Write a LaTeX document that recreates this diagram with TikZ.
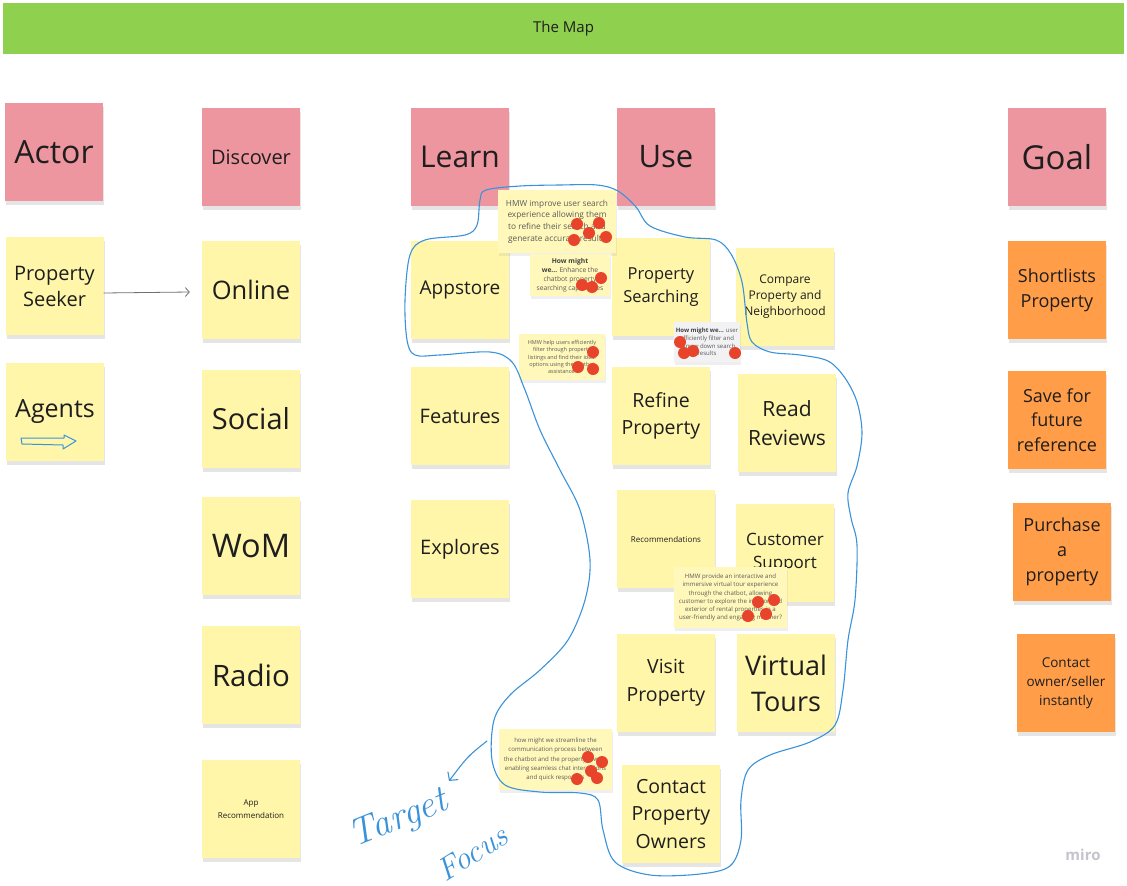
\documentclass[tikz,border=0pt]{standalone}
\usepackage{fontspec}
\setsansfont{Open Sans}
\renewcommand{\familydefault}{\sfdefault}
\usepackage{tikz}
\usetikzlibrary{positioning, arrows.meta, shadows}
\usepackage{xcolor}

\definecolor{mapgreen}{HTML}{8FD14F}
\definecolor{notepink}{HTML}{EE96A0}
\definecolor{noteyellow}{HTML}{FFF6A9}
\definecolor{noteorange}{HTML}{FF9D48}
\definecolor{hmwyellow}{HTML}{FFF8BA}
\definecolor{hmwcard}{HTML}{F2F2F4}
\definecolor{hmwtext}{HTML}{5A5A5A}
\definecolor{ink}{HTML}{1E1E1E}
\definecolor{votered}{HTML}{E8432B}
\definecolor{penblue}{HTML}{3A93DA}
\definecolor{arrowgrey}{HTML}{707070}
\definecolor{mirogrey}{HTML}{C4C4CC}

\begin{document}
\begin{tikzpicture}[
    x=1pt, y=-1pt,
    fs/.style 2 args={font=\fontsize{#1}{#2}\selectfont},
    note/.style={rectangle, minimum width=98pt, minimum height=98pt, inner sep=1pt, align=center, text=ink,
        drop shadow={shadow xshift=1pt, shadow yshift=-4pt, opacity=0.2}},
    stage/.style={note, fill=notepink},
    idea/.style={note, fill=noteyellow},
    goalcard/.style={note, fill=noteorange},
    hmw/.style={rectangle, fill=hmwyellow, align=center, text=hmwtext, inner sep=0pt,
        drop shadow={shadow xshift=1pt, shadow yshift=-3pt, opacity=0.12}},
    hmwnote/.style={hmw, fill=hmwcard},
    flow/.style={draw=arrowgrey, line width=0.8pt, -{Straight Barb[length=4pt, width=9pt]}},
    pen/.style={draw=penblue, line width=1.1pt, line cap=round, line join=round},
    hand/.style={text=penblue, inner sep=0pt, font=\fontsize{#1}{#1}\selectfont\rmfamily\itshape},
    vote/.style={fill=votered}
]
    \fill[white] (0,0) rectangle (1127,886);
    \useasboundingbox (0,0) rectangle (1127,886);

    % Title bar
    \node[fill=mapgreen, minimum width=1121pt, minimum height=51pt, fs={15}{18}, text=ink] (header) at (563.5,28.5) {The Map};

    % Actor column
    \node[stage, fs={32}{40}] (actor) at (54,152) {Actor};
    \node[idea, fs={20}{26}] (seeker) at (54.5,286) {Property\\Seeker};
    \node[idea, fs={25}{31}] (agents) at (55,412) {Agents};

    % Discover column
    \node[stage, fs={20}{26}] (discover) at (251,157) {Discover};
    \node[idea, fs={25.5}{32}] (online) at (251,290) {Online};
    \node[idea, fs={29}{36}] (social) at (251,419) {Social};
    \node[idea, fs={32.5}{40}] (wom) at (251,546) {WoM};
    \node[idea, fs={29.5}{36}] (radio) at (251,675) {Radio};
    \node[idea, fs={8}{12.5}] (apprec) at (251,809) {App\\Recommendation};

    % Learn column
    \node[stage, fs={30}{36}] (learn) at (460,157) {Learn};
    \node[idea, fs={19}{24}] (appstore) at (460,290) {Appstore};
    \node[idea, fs={20}{24}] (features) at (460,416) {Features};
    \node[idea, fs={20}{24}] (explores) at (460,549) {Explores};

    % Use columns
    \node[stage, fs={31}{38}] (use) at (666,157) {Use};
    \node[idea, fs={16.5}{23}] (searching) at (661,287) {Property\\Searching};
    \node[idea, fs={19.5}{27}] (refine) at (661,416) {Refine\\Property};
    \node[idea, fs={8}{10}] (recommend) at (666,539) {Recommendations};
    \node[idea, fs={19.5}{28}] (visit) at (666,683) {Visit\\Property};
    \node[idea, fs={19.5}{27.5}] (contact) at (671,814) {Contact\\Property\\Owners};
    \node[idea, fs={12}{16}] (compare) at (785,297) {Compare\\Property and\\Neighborhood};
    \node[idea, fs={21}{29}] (reviews) at (787,423) {Read\\Reviews};
    \node[idea, fs={17}{23}] (support) at (785,553) {Customer\\Support};
    \node[idea, fs={27}{36}] (tours) at (786,683) {Virtual\\Tours};

    % Goal column
    \node[stage, fs={33}{40}] (goal) at (1057,157) {Goal};
    \node[goalcard, fs={18}{25}] (shortlist) at (1057,290) {Shortlists\\Property};
    \node[goalcard, fs={18}{24.5}] (save) at (1057,420) {Save for\\future\\reference};
    \node[goalcard, fs={18}{25}] (purchase) at (1062,552) {Purchase\\a\\property};
    \node[goalcard, fs={13.5}{19}] (owner) at (1066,683) {Contact\\owner/seller\\instantly};

    % HMW notes
    \node[hmw, minimum width=118pt, minimum height=63pt, fs={8.3}{11.7}] (hmwsearch) at (557,221.5)
        {HMW improve user search\\experience allowing them\\to refine their search and\\generate accurate results};
    \node[hmw, minimum width=80pt, minimum height=42pt, fs={6.7}{9}] (hmwchatbot) at (570,275)
        {\textbf{\color{ink!85}How might}\\\textbf{\color{ink!85}we...} Enhance the\\chatbot property\\searching capabilities};
    \node[hmw, minimum width=86pt, minimum height=46pt, fs={5.5}{7.3}] (hmwfilter) at (562,357)
        {HMW help users efficiently\\filter through property\\listings and find their ideal\\options using the chatbot\\assistance.};
    \node[hmwnote, minimum width=66pt, minimum height=40pt, fs={6}{7.8}] (hmwnarrow) at (707,342)
        {\textbf{\color{ink!85}How might we...} user\\efficiently filter and\\narrow down search\\results};
    \node[hmw, minimum width=113pt, minimum height=61pt, fs={6.1}{8.1}] (hmwtour) at (730.5,597.5)
        {HMW provide an interactive and\\immersive virtual tour experience\\through the chatbot, allowing\\customer to explore the interior and\\exterior of rental properties in a\\user-friendly and engaging manner?};
    \node[hmw, minimum width=113pt, minimum height=61pt, fs={6.1}{9.2}] (hmwchat) at (555.5,759.5)
        {how might we streamline the\\communication process between\\the chatbot and the property owner,\\enabling seamless chat interactions\\and quick responses};

    % Votes
    \foreach \p in {(577,224),(599,223),(589,233),(606,237),(574,240),
                    (601,278),(582,285),(592,287),
                    (593,352),(578,367),(593,369),
                    (680,342),(684,353),(693,351),(735,353),
                    (758,602),(774,600),(766,614),(748,616),
                    (588,757),(602,762),(591,771),(597,778),(577,779)}
        \fill[vote] \p circle (6pt);

    % Seeker arrow
    \draw[flow] ([yshift=-7pt]seeker.east) -- ([yshift=-2pt, xshift=-12pt]online.west);

    % Agents mark
    \draw[pen, line width=1pt] (21,438) -- (64,438) -- (64,435) -- (76,441) -- (63,449) -- (63,445) -- (22,444) -- cycle;

    % Target focus loop
    \draw[pen] plot[smooth cycle, tension=0.55] coordinates {
        (480,200) (486,190) (520,186) (560,185) (597,185) (618,191) (636,207) (650,226)
        (685,237) (716,240) (731,254) (742,282) (747,323) (752,342) (770,352) (800,355)
        (828,361) (845,378) (857,402) (862,433) (857,466) (848,493) (851,518) (857,545)
        (855,600) (848,640) (843,690) (835,725) (810,742) (770,755) (748,770) (741,800)
        (741,840) (730,866) (700,874) (650,875) (615,862) (603,830) (598,800) (580,793)
        (540,792) (505,785) (492,760) (494,720) (510,695) (540,670) (568,640) (585,600)
        (590,560) (580,510) (560,470) (540,430) (525,390) (512,362) (490,352) (440,355)
        (415,355) (407,340) (405,300) (410,255) (425,240) (465,235) (477,225)};

    \coordinate (focustail) at (487,741);
    \coordinate (focustip) at (449,781);
    \draw[pen, -{Straight Barb[length=6pt, width=13pt]}] (focustail) .. controls (468,756) .. (focustip);

    \node[hand=38, rotate=22] (target) at (399,820) {Target};
    \node[hand=32, rotate=32] (focus) at (472,853) {Focus};

    \node[text=mirogrey, fs={15}{18}] (miro) at (1083,855) {\bfseries miro};
\end{tikzpicture}
\end{document}
